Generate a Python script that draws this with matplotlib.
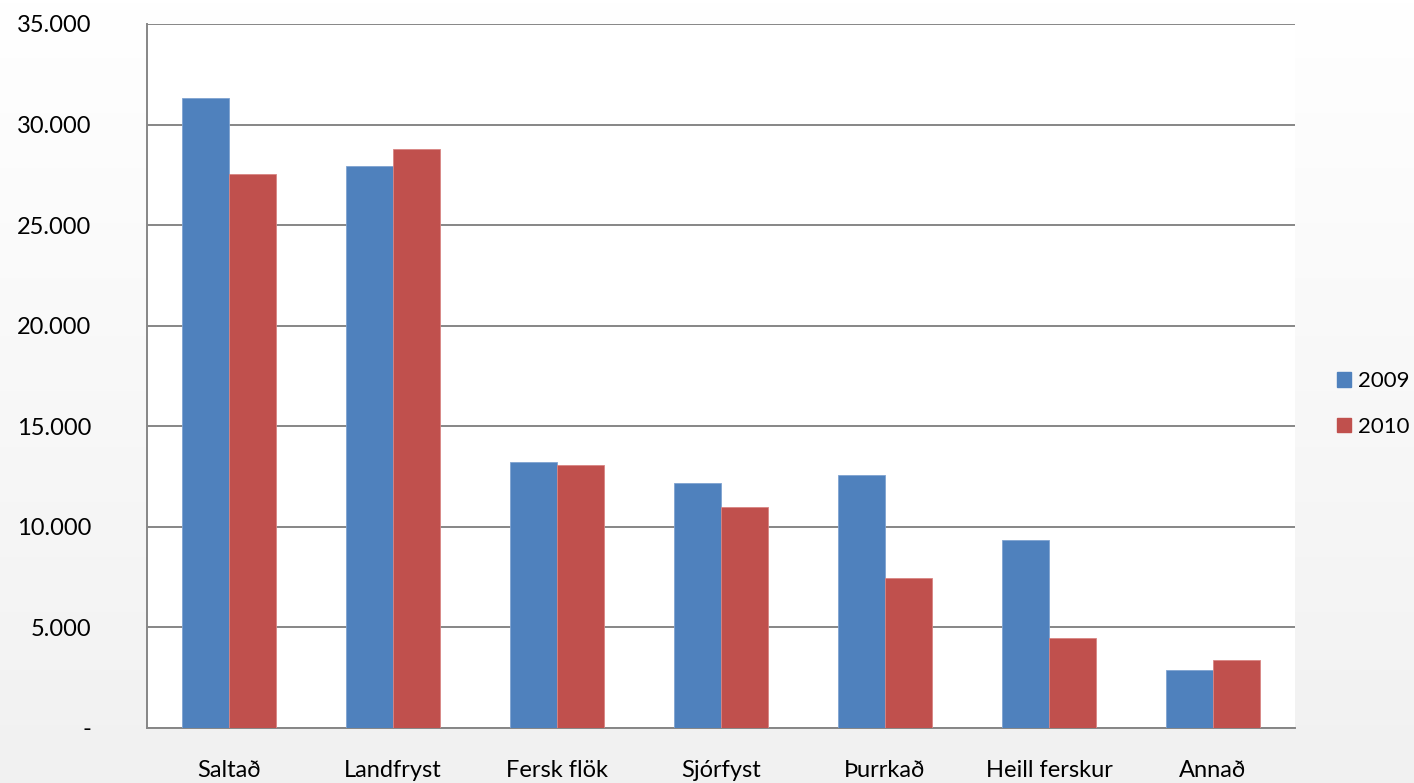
import numpy as np
import matplotlib
matplotlib.use("Agg")
import matplotlib.pyplot as plt
from matplotlib.patches import Patch

categories = ["Saltað", "Landfryst", "Fersk flök", "Sjórfyst", "Þurrkað", "Heill ferskur", "Annað"]
values_2009 = [31300, 27950, 13200, 12180, 12580, 9350, 2880]
values_2010 = [27550, 28800, 13080, 11000, 7460, 4480, 3380]
series_labels = ["2009", "2010"]
y_ticks = [0, 5000, 10000, 15000, 20000, 25000, 30000, 35000]
y_tick_labels = ["-", "5.000", "10.000", "15.000", "20.000", "25.000", "30.000", "35.000"]

blue = "#4f81bd"
red = "#c0504d"
grid_gray = "#868686"

plt.rcParams["font.family"] = ["Lato", "DejaVu Sans"]
fs = 17

fig = plt.figure(figsize=(14.14, 7.83), dpi=100)

# soft vertical gradient behind the chart
bg = fig.add_axes([0, 0, 1, 1], zorder=-10)
grad = np.linspace(1.0, 0.945, 256).reshape(-1, 1)
bg.imshow(np.dstack([grad, grad, grad]), aspect="auto", extent=[0, 1, 0, 1])
bg.set_axis_off()

ax = fig.add_axes([147 / 1414, 1 - 728 / 783, (1295 - 147) / 1414, (728 - 24) / 783])
ax.set_facecolor("white")

x = np.arange(len(categories))
w = 1 / 3.5
ax.bar(x - w / 2, values_2009, width=w, color=blue, edgecolor="#7fa3d1", linewidth=0.6, zorder=3)
ax.bar(x + w / 2, values_2010, width=w, color=red, edgecolor="#d98583", linewidth=0.6, zorder=3)

ax.set_xlim(-0.5, len(categories) - 0.5)
ax.set_ylim(0, 35000)
ax.set_yticks(y_ticks)
ax.set_yticklabels(y_tick_labels, fontsize=fs)
ax.set_xticks(x)
ax.set_xticklabels(categories, fontsize=fs)
ax.tick_params(axis="both", length=0, colors="black")
ax.tick_params(axis="y", pad=40)
ax.tick_params(axis="x", pad=23)

ax.yaxis.grid(True, color=grid_gray, linewidth=1.4, zorder=0)
ax.set_axisbelow(True)
for s in ["top", "right"]:
    ax.spines[s].set_visible(False)
for s in ["left", "bottom"]:
    ax.spines[s].set_color(grid_gray)
    ax.spines[s].set_linewidth(1.4)

handles = [Patch(facecolor=blue, edgecolor=blue), Patch(facecolor=red, edgecolor=red)]
fig.legend(handles, series_labels, loc="center left", bbox_to_anchor=(1337 / 1414, 1 - 404 / 783),
           frameon=False, fontsize=16, handlelength=0.65, handleheight=0.65,
           handletextpad=0.3, labelspacing=1.15, borderaxespad=0, borderpad=0)

fig.savefig("out.png", dpi=100)
